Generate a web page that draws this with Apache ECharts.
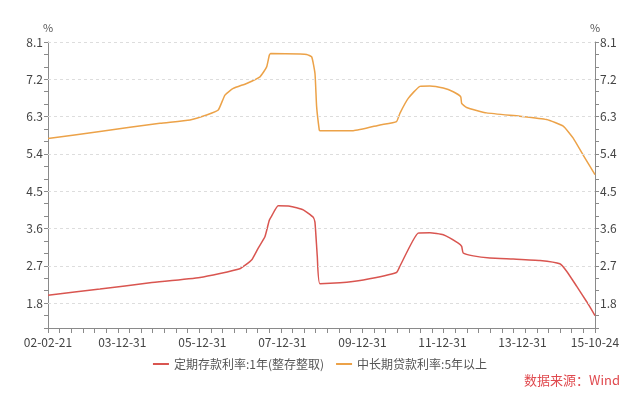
<!DOCTYPE html>
<html><head><meta charset="utf-8">
<script src="https://cdn.jsdelivr.net/npm/echarts@6/dist/echarts.min.js"></script>
<style>html,body{margin:0;padding:0;background:#fff}#c{width:640px;height:393px}</style>
</head><body><div id="c"></div>
<script>
// ---- data ----
const depositDates = ['2002-02-21','2003-06-10','2004-09-09','2005-12-09','2006-12-08','2007-03-25','2007-05-25','2007-07-25','2007-09-03','2007-09-24','2007-11-23','2008-03-09','2008-07-09','2008-10-08','2008-10-24','2008-11-14','2008-12-08','2009-06-09','2010-01-08','2010-11-07','2010-12-08','2011-05-24','2011-09-08','2012-01-08','2012-05-24','2012-06-24','2012-07-08','2012-10-08','2013-03-09','2013-10-08','2014-06-09','2014-12-07','2015-02-07','2015-05-09','2015-08-08','2015-10-24'];
const depositRate = [1.99,2.14,2.29,2.42,2.63,2.84,3.13,3.40,3.80,3.90,4.15,4.14,4.05,3.87,3.75,2.93,2.27,2.29,2.36,2.54,2.69,3.49,3.50,3.45,3.25,3.17,3.01,2.94,2.89,2.865,2.83,2.75,2.57,2.21,1.84,1.50];

const loanDates = ['2002-02-21','2003-06-10','2004-12-09','2005-09-09','2006-02-08','2006-05-25','2006-07-25','2006-10-09','2007-02-08','2007-06-10','2007-08-10','2007-09-03','2007-09-16','2008-06-10','2008-08-09','2008-09-24','2008-10-24','2008-11-08','2008-12-02','2008-12-08','2009-10-08','2010-06-09','2010-11-07','2010-12-08','2011-02-22','2011-06-09','2011-09-08','2012-01-08','2012-04-08','2012-06-15','2012-06-24','2012-08-08','2013-02-07','2013-12-07','2014-08-08','2015-01-07','2015-04-08','2015-07-08','2015-10-24'];
const loanRate = [5.77,5.94,6.14,6.22,6.34,6.46,6.82,6.98,7.10,7.26,7.50,7.78,7.82,7.81,7.80,7.74,7.34,6.54,5.98,5.96,5.96,6.10,6.18,6.38,6.74,7.03,7.04,6.99,6.90,6.78,6.62,6.52,6.39,6.31,6.23,6.07,5.78,5.37,4.90];

const xLabelDates = ['2002-02-21','2003-12-31','2005-12-31','2007-12-31','2009-12-31','2011-12-31','2013-12-31','2015-10-24'];
const yLabels = [1.8,2.7,3.6,4.5,5.4,6.3,7.2,8.1];
const yMin = 1.2, yMax = 8.1;
const seriesNames = ['定期存款利率:1年(整存整取)','中长期贷款利率:5年以上'];
const sourceText = '数据来源：Wind';

const DAY = 86400000;
function ts(s){const p=s.split('-').map(Number);return Date.UTC(p[0],p[1]-1,p[2]);}
const T0 = ts(xLabelDates[0]);
function dx(s){return (ts(s)-T0)/DAY;}
function fmt(v){const d=new Date(T0+Math.round(v)*DAY);const p=n=>String(n).padStart(2,'0');return p(d.getUTCFullYear()%100)+'-'+p(d.getUTCMonth()+1)+'-'+p(d.getUTCDate());}

const xMax = dx(xLabelDates[xLabelDates.length-1]);
const xTicks = []; for(let i=0;i<=47;i++) xTicks.push(xMax*i/47);
const FONT = 'Noto Sans CJK SC';
const RED = '#d95550', ORANGE = '#eca248';
const AXC = '#8a8a8a';

function yAxis(pos){
  return {
    type:'value', position:pos, min:yMin, max:yMax, interval:0.3,
    name:'%', nameLocation:'end', nameGap:9,
    nameTextStyle:{color:'#555',fontSize:11,fontFamily:FONT,align:'center'},
    axisLine:{show:true,onZero:false,lineStyle:{color:AXC}},
    axisTick:{show:true,length:4,lineStyle:{color:AXC}},
    axisLabel:{color:'#444',fontSize:12,fontFamily:FONT,margin:5,
      formatter:v=>{const r=Math.round(v*10);return (r%9===0&&r>=18)?(r/10).toFixed(1):'';}},
    splitLine:{show:false}
  };
}

const chart = echarts.init(document.getElementById('c'));
chart.setOption({
  backgroundColor:'#fff',
  animation:false,
  grid:{left:48,right:45,top:42,bottom:65,containLabel:false},
  legend:{
    bottom:18,left:'center',itemWidth:16,itemHeight:2,itemGap:12,icon:'rect',
    textStyle:{color:'#555',fontSize:12,fontFamily:FONT},
    data:seriesNames
  },
  xAxis:{
    type:'value', position:'bottom', min:0, max:xMax, z:10,
    axisLine:{show:true,onZero:false,lineStyle:{color:AXC,width:1}},
    axisTick:{show:true,inside:false,length:5,customValues:xTicks,lineStyle:{color:AXC,width:1}},
    axisLabel:{customValues:xLabelDates.map(dx),formatter:v=>fmt(v),color:'#444',fontSize:12,fontFamily:FONT,margin:8,showMinLabel:true,showMaxLabel:true},
    splitLine:{show:false}
  },
  yAxis:[yAxis('left'),yAxis('right')],
  graphic:[{type:'text',right:20,bottom:6,style:{text:sourceText,fill:'#e04a4f',font:'13px "'+FONT+'"'}}],
  series:[
    {name:seriesNames[0],type:'line',yAxisIndex:0,showSymbol:false,smooth:0.15,
     lineStyle:{color:RED,width:1.5},itemStyle:{color:RED},
     data:depositDates.map((d,i)=>[dx(d),depositRate[i]]),
     markLine:{silent:true,symbol:'none',label:{show:false},
       lineStyle:{color:'#dddddd',type:[3,3],width:1},
       data:yLabels.map(v=>({yAxis:v})).concat([{yAxis:yMin,lineStyle:{color:AXC,type:'solid',width:1}}])}},
    {name:seriesNames[1],type:'line',yAxisIndex:0,showSymbol:false,smooth:0.15,
     lineStyle:{color:ORANGE,width:1.5},itemStyle:{color:ORANGE},
     data:loanDates.map((d,i)=>[dx(d),loanRate[i]])}
  ]
});
</script></body></html>
